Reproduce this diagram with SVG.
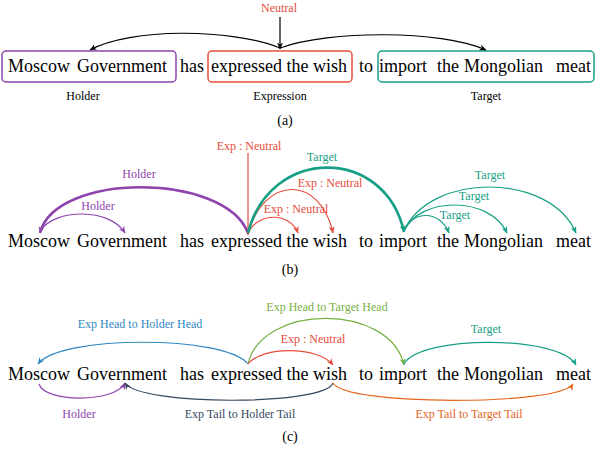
<svg xmlns="http://www.w3.org/2000/svg" width="596" height="452" viewBox="0 0 596 452" font-family="'Liberation Serif', 'DejaVu Serif', serif">
<style>
text{font-family:'Liberation Serif','DejaVu Serif',serif}
.w{font-size:18px;fill:#000}
.l{font-size:12px;text-anchor:middle}
.cap{font-size:14px;text-anchor:middle;fill:#000}
.c{fill:none;stroke-width:1.2}
.k{stroke:#000}.p{stroke:#8e44ad}.r{stroke:#e74c3c}.t{stroke:#16a085}.b{stroke:#2e86c1}.g{stroke:#76b041}.s{stroke:#34495e}.o{stroke:#e3651d}
.thick{stroke-width:2.6}
.box{fill:none;stroke-width:1.5}
</style>
<defs>
<marker id="mk" markerUnits="userSpaceOnUse" markerWidth="8" markerHeight="6" refX="6.5" refY="3" orient="auto"><path d="M0,0 L7,3 L0,6 L2,3 z" fill="#000"/></marker>
<marker id="mp" markerUnits="userSpaceOnUse" markerWidth="8" markerHeight="6" refX="6.5" refY="3" orient="auto"><path d="M0,0 L7,3 L0,6 L2,3 z" fill="#8e44ad"/></marker>
<marker id="mr" markerUnits="userSpaceOnUse" markerWidth="8" markerHeight="6" refX="6.5" refY="3" orient="auto"><path d="M0,0 L7,3 L0,6 L2,3 z" fill="#e74c3c"/></marker>
<marker id="mt" markerUnits="userSpaceOnUse" markerWidth="8" markerHeight="6" refX="6.5" refY="3" orient="auto"><path d="M0,0 L7,3 L0,6 L2,3 z" fill="#16a085"/></marker>
<marker id="mb" markerUnits="userSpaceOnUse" markerWidth="8" markerHeight="6" refX="6.5" refY="3" orient="auto"><path d="M0,0 L7,3 L0,6 L2,3 z" fill="#2e86c1"/></marker>
<marker id="mg" markerUnits="userSpaceOnUse" markerWidth="8" markerHeight="6" refX="6.5" refY="3" orient="auto"><path d="M0,0 L7,3 L0,6 L2,3 z" fill="#76b041"/></marker>
<marker id="ms" markerUnits="userSpaceOnUse" markerWidth="8" markerHeight="6" refX="6.5" refY="3" orient="auto"><path d="M0,0 L7,3 L0,6 L2,3 z" fill="#34495e"/></marker>
<marker id="mo" markerUnits="userSpaceOnUse" markerWidth="8" markerHeight="6" refX="6.5" refY="3" orient="auto"><path d="M0,0 L7,3 L0,6 L2,3 z" fill="#e3651d"/></marker>
</defs>

<!-- (a) -->
<g id="a-holder">
<rect class="box" x="2" y="51" width="174" height="31" rx="4" stroke="#8e44ad"/>
<text class="w" x="8" y="72">Moscow</text><text class="w" x="77" y="72">Government</text>
<text class="l" x="83" y="100" fill="#000">Holder</text>
</g>
<g id="a-has"><text class="w" x="180" y="72">has</text></g>
<g id="a-expression">
<rect class="box" x="208" y="51" width="144" height="31" rx="4" stroke="#e74c3c"/>
<text class="w" x="211" y="72">expressed the wish</text>
<text class="l" x="280" y="100" fill="#000">Expression</text>
</g>
<g id="a-to"><text class="w" x="359" y="72">to</text></g>
<g id="a-target">
<rect class="box" x="378" y="51" width="216" height="31" rx="4" stroke="#16a085"/>
<text class="w" x="379" y="72">import</text><text class="w" x="437" y="72">the</text><text class="w" x="464" y="72">Mongolian</text><text class="w" x="556" y="72">meat</text>
<text class="l" x="486" y="100" fill="#000">Target</text>
</g>
<text class="cap" x="285" y="125">(a)</text>

<!-- (b) -->
<g id="b-words">
<text class="w" x="8" y="247">Moscow</text><text class="w" x="77" y="247">Government</text>
<text class="w" x="180" y="247">has</text>
<text class="w" x="211" y="247">expressed the wish</text>
<text class="w" x="359" y="247">to</text>
<text class="w" x="379" y="247">import</text><text class="w" x="437" y="247">the</text><text class="w" x="464" y="247">Mongolian</text><text class="w" x="556" y="247">meat</text>
</g>
<text class="cap" x="290" y="274">(b)</text>

<!-- (c) -->
<g id="c-words">
<text class="w" x="8" y="380">Moscow</text><text class="w" x="77" y="380">Government</text>
<text class="w" x="180" y="380">has</text>
<text class="w" x="211" y="380">expressed the wish</text>
<text class="w" x="359" y="380">to</text>
<text class="w" x="379" y="380">import</text><text class="w" x="437" y="380">the</text><text class="w" x="464" y="380">Mongolian</text><text class="w" x="556" y="380">meat</text>
</g>
<text class="cap" x="290" y="441">(c)</text>

<g id="connectors">
<!-- (a) -->
<path class="c k" d="M280,17 L280,49" marker-end="url(#mk)"/>
<path class="c k" d="M280,48 C230,28 130,28 90,50" marker-end="url(#mk)"/>
<path class="c k" d="M280,48 C330,30 440,30 486,50" marker-end="url(#mk)"/>
<text class="l" x="279" y="12" fill="#e74c3c">Neutral</text>

<!-- (b) -->
<path class="c r" d="M248,153 L248,235" marker-end="url(#mr)"/>
<text class="l" x="249" y="150" fill="#e74c3c">Exp : Neutral</text>
<path class="c p thick" d="M248,233 C225,172 55,172 40,233" marker-end="url(#mp)"/>
<text class="l" x="139" y="178" fill="#8e44ad">Holder</text>
<path class="c p" d="M40,231 C55,208 110,208 125,233" marker-end="url(#mp)"/>
<text class="l" x="98" y="210" fill="#8e44ad">Holder</text>
<path class="c r" d="M248,233 C258,212 290,212 298,233" marker-end="url(#mr)"/>
<text class="l" x="296" y="213" fill="#e74c3c">Exp : Neutral</text>
<path class="c r" d="M248,233 C265,175 320,175 333,233" marker-end="url(#mr)"/>
<text class="l" x="330" y="187" fill="#e74c3c">Exp : Neutral</text>
<path class="c t thick" d="M248,233 C270,146 385,146 404,232" marker-end="url(#mt)"/>
<text class="l" x="322" y="161" fill="#16a085">Target</text>
<path class="c t" d="M404,231 C412,210 440,210 449,233" marker-end="url(#mt)"/>
<text class="l" x="455" y="219" fill="#16a085">Target</text>
<path class="c t" d="M404,231 C420,196 490,196 507,233" marker-end="url(#mt)"/>
<text class="l" x="474" y="200" fill="#16a085">Target</text>
<path class="c t" d="M404,231 C430,172 550,172 576,233" marker-end="url(#mt)"/>
<text class="l" x="490" y="179" fill="#16a085">Target</text>

<!-- (c) -->
<path class="c b" d="M248,364 C225,335 60,335 38,364" marker-end="url(#mb)"/>
<text class="l" x="140" y="328" fill="#2e86c1">Exp Head to Holder Head</text>
<path class="c g" d="M248,364 C262,303 390,303 404,365" marker-end="url(#mg)"/>
<text class="l" x="327" y="311" fill="#76b041">Exp Head to Target Head</text>
<path class="c r" d="M248,364 C262,346 318,346 333,365" marker-end="url(#mr)"/>
<text class="l" x="313" y="343" fill="#e74c3c">Exp : Neutral</text>
<path class="c t" d="M404,364 C420,335 560,335 576,365" marker-end="url(#mt)"/>
<text class="l" x="486" y="333" fill="#16a085">Target</text>
<path class="c p" d="M39,384 C45,403 115,403 125,383" marker-end="url(#mp)"/>
<text class="l" x="79" y="418" fill="#8e44ad">Holder</text>
<path class="c s" d="M333,383 C325,406 140,406 125,383" marker-end="url(#ms)"/>
<text class="l" x="240" y="418" fill="#34495e">Exp Tail to Holder Tail</text>
<path class="c o" d="M333,383 C345,406 560,406 573,384" marker-end="url(#mo)"/>
<text class="l" x="469" y="418" fill="#e3651d">Exp Tail to Target Tail</text>
</g>
</svg>
